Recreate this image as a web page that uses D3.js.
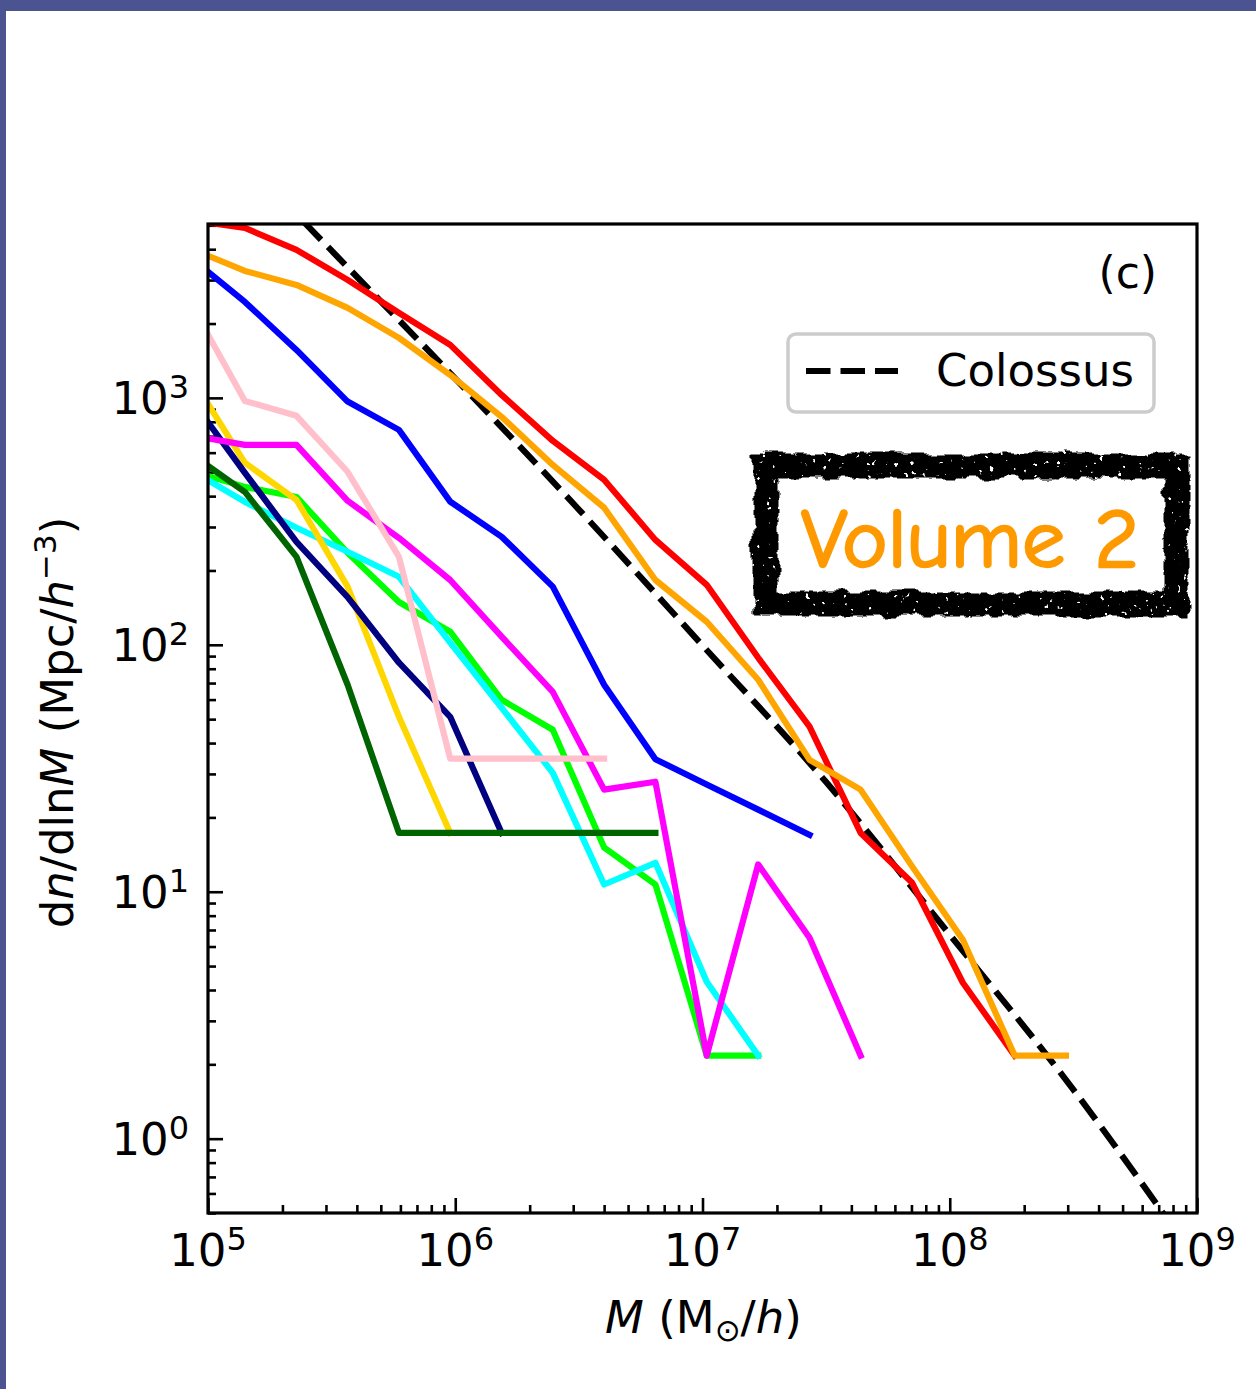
<!DOCTYPE html>
<html>
<head>
<meta charset="utf-8">
<script src="https://cdn.jsdelivr.net/npm/d3@7"></script>
<style>
    body { margin: 0; background: #fff; }
    svg { display: block; font-family: "DejaVu Sans", sans-serif; }
</style>
</head>
<body>
<svg id="chart" width="1256" height="1389"></svg>
<script>
// Mass bin centres (M_sun/h); the first one lies left of the axis and gets clipped
var massBins = [8.75e4, 1.41e5, 2.28e5, 3.67e5, 5.92e5, 9.54e5, 1.54e6, 2.48e6, 4.00e6,
                6.45e6, 1.04e7, 1.68e7, 2.71e7, 4.36e7, 7.03e7, 1.13e8, 1.83e8, 2.95e8];

// dn/dlnM for each run, starting at massBins[0]
var redDn       = [5217, 4879, 3975, 3004, 2209, 1639, 1028, 670, 466, 266, 175, 88.6, 46.6, 17.3, 10.9, 4.28, 2.17];
var orangeDn    = [3975, 3268, 2868, 2314, 1750, 1239, 838, 535, 359, 183, 124, 72.2, 34.2, 25.9, 12.7, 6.39, 2.17, 2.17];
var blueDn      = [3621, 2447, 1564, 966, 742, 380, 274, 172, 68.9, 34.4, 27.2, 21.5, 17.0];
var pinkDn      = [2295, 972, 846, 502, 227, 34.6, 34.6, 34.6, 34.6];
var goldDn      = [1172, 546, 386, 172, 51.1, 17.3];
var magentaDn   = [702, 645, 645, 383, 271, 183, 108, 64.5, 25.9, 27.9, 2.17, 12.9, 6.51, 2.17];
var navyDn      = [957, 497, 261, 156, 84.6, 51.1, 17.3];
var darkgreenDn = [583, 416, 227, 68.9, 17.3, 17.3, 17.3, 17.3, 17.3, 17.3];
var limeDn      = [502, 436, 397, 236, 149, 113, 59.9, 45.3, 15.1, 10.7, 2.17, 2.17];
var cyanDn      = [502, 379, 298, 238, 188.5, 102, 55.6, 30.3, 10.7, 13.1, 4.32, 2.17];

// Colossus mass function
var colossusMass = [1e5, 3.162e5, 1e6, 3.162e6, 1e7, 3.162e7, 1e8, 3.162e8, 1e9];
var colossusDn   = [12970, 3945, 1197, 353, 99.4, 27.8, 6.70, 1.58, 0.318];

// Tick labels
var xTickValues = [1e5, 1e6, 1e7, 1e8, 1e9];
var xTickExps   = ['5', '6', '7', '8', '9'];
var yTickValues = [1, 10, 100, 1000];
var yTickExps   = ['0', '1', '2', '3'];

var legendLabel = 'Colossus';
var panelLabel = '(c)';
var volumeLabel = 'Volume 2';

// Draw order and colours
var series = [
    {name: 'lime',      values: limeDn},
    {name: 'cyan',      values: cyanDn},
    {name: 'gold',      values: goldDn},
    {name: 'navy',      values: navyDn},
    {name: 'darkgreen', values: darkgreenDn},
    {name: 'magenta',   values: magentaDn},
    {name: 'pink',      values: pinkDn},
    {name: 'blue',      values: blueDn},
    {name: 'red',       values: redDn},
    {name: 'orange',    values: orangeDn}
];
var lineColors = {
    lime: '#00ff00', cyan: '#00ffff', gold: '#ffd700', navy: '#000080', darkgreen: '#006400',
    magenta: '#ff00ff', pink: '#ffc0cb', blue: '#0000ff', red: '#ff0000', orange: '#ffa500'
};

var svg = d3.select('#chart');
var W = 1256, H = 1389;
var box = {left: 208, top: 224, right: 1197, bottom: 1213};

// Page frame:
svg.append('rect').attr('width', W).attr('height', H).attr('fill', '#fff');
svg.append('rect').attr('width', W).attr('height', 11).attr('fill', '#4b5391');
svg.append('rect').attr('width', 6).attr('height', H).attr('fill', '#4b5391');

var x = d3.scaleLog().domain([1e5, 1e9]).range([box.left, box.right]);
var y = d3.scaleLog().domain([0.5, 5060]).range([box.bottom, box.top]);

var defs = svg.append('defs');
defs.append('clipPath').attr('id', 'plotclip')
    .append('rect')
    .attr('x', box.left).attr('y', box.top)
    .attr('width', box.right - box.left).attr('height', box.bottom - box.top);

// Rough ink border for the volume tag
var rough = defs.append('filter').attr('id', 'rough')
    .attr('x', '-10%').attr('y', '-30%').attr('width', '120%').attr('height', '160%');
rough.append('feTurbulence').attr('type', 'fractalNoise').attr('baseFrequency', 0.05)
    .attr('numOctaves', 3).attr('seed', 4).attr('result', 'noise');
rough.append('feDisplacementMap').attr('in', 'SourceGraphic').attr('in2', 'noise')
    .attr('scale', 12).attr('xChannelSelector', 'R').attr('yChannelSelector', 'G')
    .attr('result', 'shaken');
rough.append('feTurbulence').attr('type', 'fractalNoise').attr('baseFrequency', 0.18)
    .attr('numOctaves', 2).attr('seed', 9).attr('result', 'fine');
rough.append('feColorMatrix').attr('in', 'fine').attr('type', 'matrix')
    .attr('values', '0 0 0 0 0  0 0 0 0 0  0 0 0 0 0  20 0 0 0 -14.2').attr('result', 'holes');
rough.append('feComposite').attr('in', 'shaken').attr('in2', 'holes').attr('operator', 'out');

// Axes ticks (inward, left and bottom only):
var xMinor = x.ticks().filter((d) => xTickValues.indexOf(d) < 0);
var yMinor = y.ticks().filter((d) => yTickValues.indexOf(d) < 0);

function tickAxis(axis, transform) {
    var g = svg.append('g').attr('transform', transform).call(axis);
    g.select('.domain').remove();
    g.selectAll('.tick line').attr('stroke', '#000').attr('stroke-width', 2.6);
    g.selectAll('.tick text').remove();
    return g;
}
tickAxis(d3.axisBottom(x).tickValues(xMinor).tickSize(-8).tickSizeOuter(0), 'translate(0,' + box.bottom + ')');
tickAxis(d3.axisBottom(x).tickValues(xTickValues).tickSize(-15).tickSizeOuter(0), 'translate(0,' + box.bottom + ')');
tickAxis(d3.axisLeft(y).tickValues(yMinor).tickSize(-8).tickSizeOuter(0), 'translate(' + box.left + ',0)');
tickAxis(d3.axisLeft(y).tickValues(yTickValues).tickSize(-15).tickSizeOuter(0), 'translate(' + box.left + ',0)');

// Tick labels with superscripts:
svg.append('g').selectAll('text').data(xTickValues).join('text')
    .attr('x', (d) => x(d)).attr('y', box.bottom + 53)
    .attr('text-anchor', 'middle').attr('font-size', 45)
    .each(function(d, i) {
        var t = d3.select(this);
        t.append('tspan').text('10');
        t.append('tspan').attr('font-size', 32).attr('dy', -16).text(xTickExps[i]);
    });
svg.append('g').selectAll('text').data(yTickValues).join('text')
    .attr('x', box.left - 19).attr('y', (d) => y(d) + 16)
    .attr('text-anchor', 'end').attr('font-size', 45)
    .each(function(d, i) {
        var t = d3.select(this);
        t.append('tspan').text('10');
        t.append('tspan').attr('font-size', 32).attr('dy', -16).text(yTickExps[i]);
    });

// Axis titles:
var xTitle = svg.append('text')
    .attr('x', (box.left + box.right) / 2 + 1).attr('y', 1333)
    .attr('text-anchor', 'middle').attr('font-size', 45);
xTitle.append('tspan').attr('font-style', 'italic').text('M');
xTitle.append('tspan').text(' (M');
xTitle.append('tspan').attr('font-size', 31).attr('dy', 8).text('\u2299');
xTitle.append('tspan').attr('dy', -8).text('/');
xTitle.append('tspan').attr('font-style', 'italic').text('h');
xTitle.append('tspan').text(')');

var yTitle = svg.append('text')
    .attr('transform', 'translate(73,' + ((box.top + box.bottom) / 2 + 4) + ') rotate(-90)')
    .attr('text-anchor', 'middle').attr('font-size', 45);
yTitle.append('tspan').text('d');
yTitle.append('tspan').attr('font-style', 'italic').text('n');
yTitle.append('tspan').text('/dln');
yTitle.append('tspan').attr('font-style', 'italic').text('M');
yTitle.append('tspan').text(' (Mpc/');
yTitle.append('tspan').attr('font-style', 'italic').text('h');
yTitle.append('tspan').attr('font-size', 31).attr('dy', -17).text('\u22123');
yTitle.append('tspan').attr('dy', 17).text(')');

// Lines:
var plot = svg.append('g').attr('clip-path', 'url(#plotclip)');

var colossusLine = d3.line()
    .x((d, i) => x(colossusMass[i]))
    .y((d) => y(d))
    .curve(d3.curveMonotoneX);
plot.append('path')
    .attr('d', colossusLine(colossusDn))
    .attr('fill', 'none').attr('stroke', '#000').attr('stroke-width', 6.2)
    .attr('stroke-dasharray', '24.5,10');

var runLine = d3.line()
    .x((d, i) => x(massBins[i]))
    .y((d) => y(d));
plot.selectAll('path.run').data(series).join('path')
    .classed('run', true)
    .attr('d', (d) => runLine(d.values))
    .attr('fill', 'none')
    .attr('stroke', (d) => lineColors[d.name])
    .attr('stroke-width', 6.2)
    .attr('stroke-linejoin', 'round')
    .attr('stroke-linecap', 'square');

// Frame:
svg.append('rect')
    .attr('x', box.left).attr('y', box.top)
    .attr('width', box.right - box.left).attr('height', box.bottom - box.top)
    .attr('fill', 'none').attr('stroke', '#000').attr('stroke-width', 3.2);

// Panel label
svg.append('text').attr('x', 1157).attr('y', 288)
    .attr('text-anchor', 'end').attr('font-size', 44).text(panelLabel);

// Legend:
var legend = svg.append('g');
legend.append('rect')
    .attr('x', 788).attr('y', 334).attr('width', 366).attr('height', 78).attr('rx', 8)
    .attr('fill', '#fff').attr('fill-opacity', 0.8)
    .attr('stroke', '#cccccc').attr('stroke-width', 3.5);
legend.append('line')
    .attr('x1', 806).attr('x2', 898).attr('y1', 371).attr('y2', 371)
    .attr('stroke', '#000').attr('stroke-width', 6.2).attr('stroke-dasharray', '24.5,10');
legend.append('text').attr('x', 936).attr('y', 386)
    .attr('font-size', 45).text(legendLabel);

// Volume tag:
svg.append('rect')
    .attr('x', 766).attr('y', 466).attr('width', 411).attr('height', 138)
    .attr('fill', 'none').attr('stroke', '#000').attr('stroke-width', 25)
    .attr('filter', 'url(#rough)');
svg.append('text')
    .attr('x', 801).attr('y', 567)
    .attr('font-family', '"Comic Sans MS", "Comic Neue", "DejaVu Sans", sans-serif')
    .attr('font-size', 82).attr('fill', '#ff9900')
    .attr('stroke', '#ff9900').attr('stroke-width', 2.4).attr('stroke-linejoin', 'round')
    .attr('textLength', 338).attr('lengthAdjust', 'spacingAndGlyphs')
    .text(volumeLabel);
</script>
</body>
</html>
